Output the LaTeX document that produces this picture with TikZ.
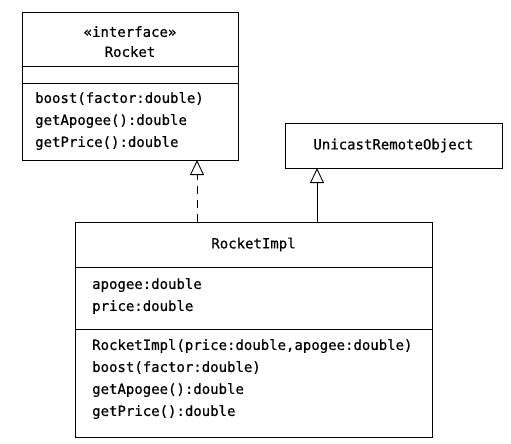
\documentclass[tikz,border=0pt]{standalone}
\usepackage{fontspec}
\setmonofont[FakeBold=0.6]{DejaVu Sans Mono}
\usetikzlibrary{arrows.meta,positioning}

\tikzset{
  part/.style={rectangle,draw,line width=0.9pt,inner sep=0pt,outer sep=0pt,anchor=north west,
    font=\fontsize{14}{22}\selectfont\ttfamily},
  txt/.style={inner sep=0pt,align=left,anchor=north west,font=\fontsize{14}{22}\selectfont\ttfamily},
  realize/.style={-{Triangle[open,length=15pt,width=14pt]},line width=0.9pt}
}

\begin{document}
\begin{tikzpicture}[x=1pt,y=-1pt]
\useasboundingbox (0,0) rectangle (511,444);

% interface Rocket
\node [part,minimum width=216pt,minimum height=54pt] (rockethead) at (22,12) {};
\node [part,minimum width=216pt,minimum height=17pt] (rocketattr) at (rockethead.south west) {};
\node [part,minimum width=216pt,minimum height=77pt] (rocketops) at (rocketattr.south west) {};
\node [txt,align=center,anchor=north,below=14pt of rockethead.north,
  font=\fontsize{14}{20}\selectfont\ttfamily] (rocketname) {«interface»\\Rocket};
\node [txt,below right=9pt and 13pt of rocketops.north west] (rocketopstxt)
  {boost(factor:double)\\getApogee():double\\getPrice():double};

% superclass
\node [part,minimum width=217pt,minimum height=45pt] (unicast) at (285,123) {UnicastRemoteObject};

% RocketImpl
\node [part,minimum width=357pt,minimum height=45pt] (implhead) at (75,222) {RocketImpl};
\node [part,minimum width=357pt,minimum height=62pt] (implattr) at (implhead.south west) {};
\node [part,minimum width=357pt,minimum height=108pt] (implops) at (implattr.south west) {};
\node [txt,below right=11pt and 17pt of implattr.north west] (implattrtxt)
  {apogee:double\\price:double};
\node [txt,below right=10pt and 17pt of implops.north west] (implopstxt)
  {RocketImpl(price:double,apogee:double)\\boost(factor:double)\\getApogee():double\\getPrice():double};

\coordinate (realx) at (197,0);
\coordinate (extx) at (317,0);
\draw [realize,dash pattern=on 8pt off 6pt] (implhead.north -| realx) -- (rocketops.south -| realx);
\draw [realize] (implhead.north -| extx) -- (unicast.south -| extx);
\end{tikzpicture}
\end{document}
